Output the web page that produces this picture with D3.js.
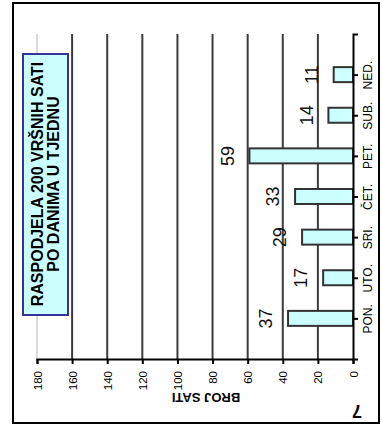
<!DOCTYPE html>
<html>
<head>
<meta charset="utf-8">
<script src="https://cdn.jsdelivr.net/npm/d3@7/dist/d3.min.js"></script>
<style>
  html, body { margin: 0; padding: 0; background: #fff; }
  svg { display: block; }
  text { font-family: "Liberation Sans", Arial, Helvetica, sans-serif; }
</style>
</head>
<body>
<svg id="chart" width="382" height="432"></svg>
<script>
// ---- data ----
const categories = ["PON.", "UTO.", "SRI.", "ČET.", "PET.", "SUB.", "NED."];
const hours = [37, 17, 29, 33, 59, 14, 11];
const valueTicks = [0, 20, 40, 60, 80, 100, 120, 140, 160, 180];
const titleLines = ["RASPODJELA 200 VRŠNIH SATI", "PO DANIMA U TJEDNU"];
const axisTitle = "BROJ SATI";
const pageNumber = "7";

// ---- layout (chart is drawn rotated: values run right-to-left, categories bottom-to-top) ----
const svg = d3.select("#chart");
const plot = { left: 37, right: 353, top: 34, bottom: 359 };

const x = d3.scaleLinear().domain([0, 180]).range([plot.right, plot.left]);
const y = d3.scalePoint().domain(categories).range([plot.bottom, plot.top]).padding(1);

svg.append("rect").attr("x", 0).attr("y", 0).attr("width", 382).attr("height", 432).attr("fill", "#fff");

// outer frame
svg.append("rect")
  .attr("x", 13).attr("y", 3).attr("width", 366).attr("height", 420)
  .attr("fill", "none").attr("stroke", "#000").attr("stroke-width", 2);

// gridlines
svg.append("g").selectAll("line")
  .data(valueTicks.filter(v => v > 0))
  .join("line")
  .attr("x1", d => x(d)).attr("x2", d => x(d))
  .attr("y1", plot.top).attr("y2", plot.bottom)
  .attr("stroke", d => d === 180 ? "#cfcfcf" : "#3c3c3c")
  .attr("stroke-width", d => d === 180 ? 1.5 : 2);

// bars
const barH = 15;
svg.append("g").selectAll("rect")
  .data(categories)
  .join("rect")
  .attr("x", (d, i) => x(hours[i]))
  .attr("y", d => y(d) - barH / 2)
  .attr("width", (d, i) => x(0) - x(hours[i]))
  .attr("height", barH)
  .attr("fill", "#CCFFFF")
  .attr("stroke", "#333")
  .attr("stroke-width", 2);

// value labels
svg.append("g").selectAll("text")
  .data(categories)
  .join("text")
  .attr("transform", (d, i) => `translate(${x(hours[i]) - 22},${y(d)}) rotate(-90)`)
  .attr("text-anchor", "middle")
  .attr("dy", "0.35em")
  .attr("font-size", 18)
  .attr("fill", "#111")
  .text((d, i) => hours[i]);

// value axis (horizontal at bottom)
const xAxis = svg.append("g")
  .attr("transform", `translate(0,${plot.bottom})`)
  .call(d3.axisBottom(x).tickValues(valueTicks).tickSize(5).tickSizeOuter(5));
xAxis.select(".domain").attr("stroke", "#000").attr("stroke-width", 2);
xAxis.selectAll(".tick line").attr("stroke", "#000").attr("stroke-width", 2);
xAxis.selectAll(".tick text")
  .attr("transform", "rotate(-90)")
  .attr("x", -12).attr("y", 0).attr("dy", "0.35em")
  .style("text-anchor", "end")
  .attr("font-size", 11.5)
  .attr("font-family", "Liberation Sans, Arial, sans-serif")
  .attr("fill", "#000");

// category axis (vertical at value 0)
const yAxis = svg.append("g")
  .attr("transform", `translate(${plot.right},0)`)
  .call(d3.axisRight(y).tickSize(5).tickSizeOuter(5));
yAxis.select(".domain").attr("stroke", "#000").attr("stroke-width", 2);
yAxis.selectAll(".tick line").attr("stroke", "#000").attr("stroke-width", 2);
yAxis.selectAll(".tick text")
  .attr("transform", "rotate(-90)")
  .attr("x", 0).attr("y", 15).attr("dy", "0.35em")
  .style("text-anchor", "middle")
  .attr("font-size", 12)
  .attr("font-family", "Liberation Sans, Arial, sans-serif")
  .attr("fill", "#000");

// axis title (upside down)
svg.append("text")
  .attr("transform", "translate(206,398) rotate(180)")
  .attr("text-anchor", "middle").attr("dy", "0.35em")
  .attr("font-size", 13).attr("font-weight", "bold")
  .text(axisTitle);

// page number
svg.append("text")
  .attr("transform", "translate(357,411) rotate(180)")
  .attr("text-anchor", "middle").attr("dy", "0.35em")
  .attr("font-size", 18).attr("font-weight", "bold")
  .text(pageNumber);

// title box
svg.append("rect")
  .attr("x", 23).attr("y", 54).attr("width", 45).attr("height", 261)
  .attr("fill", "#CCFFFF").attr("stroke", "#333399").attr("stroke-width", 2);
svg.append("g").selectAll("text")
  .data(titleLines)
  .join("text")
  .attr("transform", (d, i) => `translate(${37 + i * 16},184) rotate(-90)`)
  .attr("text-anchor", "middle").attr("dy", "0.35em")
  .attr("font-size", 16).attr("font-weight", "bold")
  .attr("fill", "#000")
  .text(d => d);
</script>
</body>
</html>
